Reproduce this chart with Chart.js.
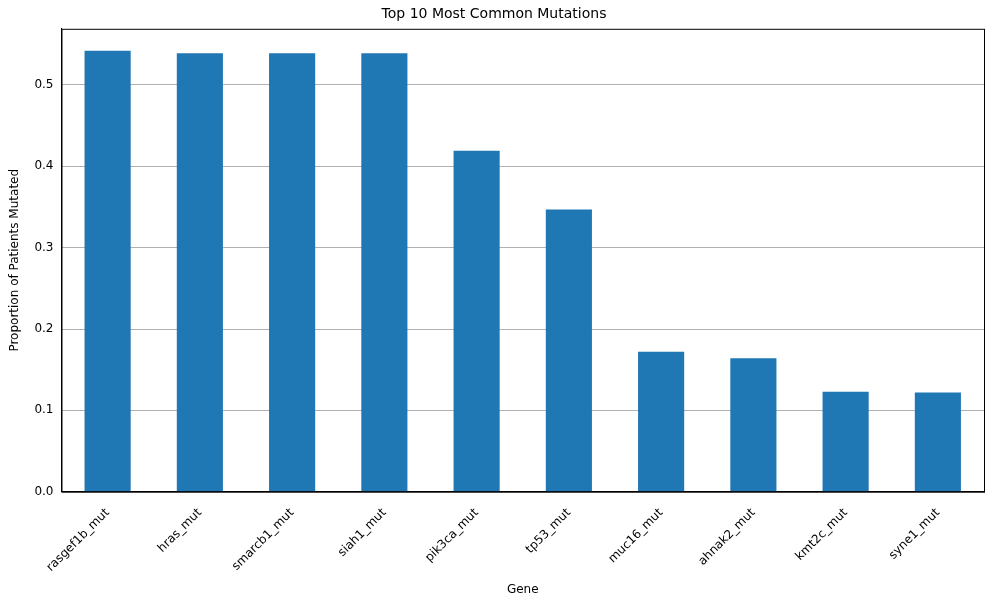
<!DOCTYPE html>
<html>
<head>
<meta charset="utf-8">
<script src="https://cdn.jsdelivr.net/npm/chart.js@4"></script>
<style>
  html, body { margin: 0; padding: 0; background: #fff; }
  #wrap { width: 1001px; height: 609px; }
</style>
</head>
<body>
<div id="wrap"><canvas id="chart"></canvas></div>
<script>
// data
const genes = ['rasgef1b_mut', 'hras_mut', 'smarcb1_mut', 'siah1_mut', 'pik3ca_mut',
               'tp53_mut', 'muc16_mut', 'ahnak2_mut', 'kmt2c_mut', 'syne1_mut'];
const proportions = [0.542, 0.539, 0.539, 0.539, 0.419, 0.347, 0.172, 0.164, 0.123, 0.122];
const yTicks = [0.0, 0.1, 0.2, 0.3, 0.4, 0.5];

// draw the full box around the plot like matplotlib spines
const boxPlugin = {
    id: 'box',
    afterDraw(chart) {
        const a = chart.chartArea, ctx = chart.ctx;
        ctx.save();
        ctx.strokeStyle = '#000';
        ctx.lineWidth = 1;
        ctx.strokeRect(a.left + 0.5, a.top + 0.5, a.right - a.left, a.bottom - a.top);
        ctx.restore();
    }
};

Chart.defaults.font.family = 'DejaVu Sans';
Chart.defaults.color = '#000';

new Chart(document.getElementById('chart'), {
    type: 'bar',
    data: {
        labels: genes,
        datasets: [{
            data: proportions,
            backgroundColor: '#1f77b4',
            categoryPercentage: 1.0,
            barPercentage: 0.5
        }]
    },
    options: {
        responsive: true,
        maintainAspectRatio: false,
        animation: false,
        layout: { padding: { left: 4, right: 17, top: 4, bottom: 8 } },
        plugins: {
            legend: { display: false },
            tooltip: { enabled: false },
            title: {
                display: true,
                text: 'Top 10 Most Common Mutations',
                font: { size: 14, weight: 'normal' },
                padding: { top: 2, bottom: 6 }
            }
        },
        scales: {
            x: {
                grid: { display: false },
                border: { color: '#000' },
                ticks: { maxRotation: 45, minRotation: 45, font: { size: 12 }, padding: 6 },
                title: { display: true, text: 'Gene', font: { size: 12 }, padding: { top: 2 } }
            },
            y: {
                min: 0,
                max: 0.569,
                afterBuildTicks(scale) { scale.ticks = yTicks.map(v => ({ value: v })); },
                grid: { color: '#b0b0b0', drawTicks: false },
                border: { color: '#000' },
                ticks: { font: { size: 12 }, padding: 8, callback: v => v.toFixed(1) },
                title: { display: true, text: 'Proportion of Patients Mutated', font: { size: 12 } }
            }
        }
    },
    plugins: [boxPlugin]
});
</script>
</body>
</html>
